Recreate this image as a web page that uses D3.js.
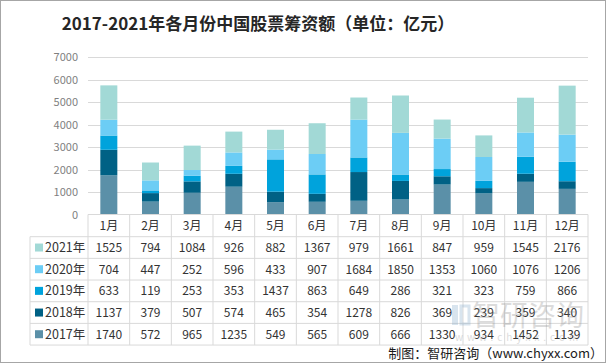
<!DOCTYPE html>
<html><head><meta charset="utf-8">
<script src="https://cdn.jsdelivr.net/npm/d3@7"></script>
<style>
html,body{margin:0;padding:0;background:#fff;}
svg{display:block;font-family:"Noto Sans CJK SC","Microsoft YaHei",sans-serif;}
</style></head>
<body>
<svg id="c" width="606" height="364"></svg>
<script>
const months = ["1月","2月","3月","4月","5月","6月","7月","8月","9月","10月","11月","12月"];
const seriesNames = ["2017年","2018年","2019年","2020年","2021年"];
const v2017 = [1740,572,965,1235,549,565,609,666,1330,934,1452,1139];
const v2018 = [1137,379,507,574,465,354,1278,826,369,239,359,340];
const v2019 = [633,119,253,353,1437,863,649,286,321,323,759,866];
const v2020 = [704,447,252,596,433,907,1684,1850,1353,1060,1076,1206];
const v2021 = [1525,794,1084,926,882,1367,979,1661,847,959,1545,2176];
const yTicks = [0,1000,2000,3000,4000,5000,6000,7000];
const colors = ["#5b90a8","#006185","#00a3dc","#6ccdf5","#a2d9d6"];
const seriesVals = [v2017,v2018,v2019,v2020,v2021];

const svg = d3.select("#c");
svg.append("rect").attr("x",0.5).attr("y",0.5).attr("width",605).attr("height",362)
  .attr("fill","none").attr("stroke","#a6a6a6").attr("stroke-width",1);

svg.append("text").attr("x",258).attr("y",30).attr("text-anchor","middle")
  .attr("font-size",17).attr("font-weight","bold").attr("fill","#262626")
  .text("2017-2021年各月份中国股票筹资额（单位：亿元）");

const x = d3.scaleBand().domain(months).range([88,588]).paddingInner(0).paddingOuter(0);
const y = d3.scaleLinear().domain([0,7000]).range([214.5,57]);

svg.append("g").selectAll("line").data(yTicks.filter(d=>d>0)).join("line")
  .attr("x1",88).attr("x2",588).attr("y1",d=>Math.round(y(d))+0.5).attr("y2",d=>Math.round(y(d))+0.5)
  .attr("stroke","#d9d9d9").attr("stroke-width",1);

const yAxis = d3.axisLeft(y).tickValues(yTicks).tickFormat(d3.format("d")).tickSize(0).tickPadding(0);
const ga = svg.append("g").attr("transform","translate(78,0)").call(yAxis);
ga.select(".domain").remove();
ga.selectAll("text").attr("font-size",11).attr("fill","#7f7f7f")
  .attr("font-family","'Noto Sans CJK SC',sans-serif");

const table = months.map((m,i)=>{const o={month:m}; seriesNames.forEach((s,j)=>o[s]=seriesVals[j][i]); return o;});
const stack = d3.stack().keys(seriesNames)(table);
const barW = 17;
svg.append("g").selectAll("g").data(stack).join("g").attr("fill",(d,i)=>colors[i])
  .selectAll("rect").data(d=>d).join("rect")
  .attr("x",d=>x(d.data.month)+x.bandwidth()/2-barW/2)
  .attr("width",barW)
  .attr("y",d=>y(d[1]))
  .attr("height",d=>y(d[0])-y(d[1]));

const tableTop = 214.5, monthRowH = 22.2, rowH = 21.67, labelLeft = 30;
const tg = svg.append("g");
const gridColor = "#d9d9d9";
const rowsCount = seriesNames.length;
tg.append("line").attr("x1",88).attr("x2",588).attr("y1",tableTop).attr("y2",tableTop).attr("stroke",gridColor);
for(let r=0;r<=rowsCount;r++){
  const yy = tableTop+monthRowH+r*rowH;
  tg.append("line").attr("x1",labelLeft).attr("x2",588).attr("y1",yy).attr("y2",yy).attr("stroke",gridColor);
}
const tableBottom = tableTop+monthRowH+rowsCount*rowH;
months.forEach((m,i)=>{
  tg.append("line").attr("x1",x(m)).attr("x2",x(m)).attr("y1",tableTop).attr("y2",tableBottom).attr("stroke",gridColor);
});
tg.append("line").attr("x1",588).attr("x2",588).attr("y1",tableTop).attr("y2",tableBottom).attr("stroke",gridColor);
tg.append("line").attr("x1",labelLeft).attr("x2",labelLeft).attr("y1",tableTop+monthRowH).attr("y2",tableBottom).attr("stroke",gridColor);

tg.selectAll("text.m").data(months).join("text").attr("class","m")
  .attr("x",d=>x(d)+x.bandwidth()/2).attr("y",tableTop+monthRowH/2+4.5)
  .attr("text-anchor","middle").attr("font-size",12).attr("fill","#333")
  .text(d=>d);

const order = [4,3,2,1,0];
order.forEach((si,r)=>{
  const cy = tableTop+monthRowH+r*rowH+rowH/2;
  tg.append("rect").attr("x",35).attr("y",cy-4).attr("width",8).attr("height",8).attr("fill",colors[si]);
  tg.append("text").attr("x",45).attr("y",cy+4.5).attr("font-size",12.5).attr("fill","#333").text(seriesNames[si]);
  tg.selectAll(null).data(seriesVals[si]).join("text")
    .attr("x",(d,i)=>x(months[i])+x.bandwidth()/2).attr("y",cy+4.5)
    .attr("text-anchor","middle").attr("font-size",12).attr("fill","#333")
    .text(d=>d);
});

// watermark (faint, as in reference)
const wm = svg.append("g").attr("opacity",0.3);
wm.append("rect").attr("x",452).attr("y",305).attr("width",6).attr("height",20).attr("fill","#7fa7c9");
wm.append("rect").attr("x",461).attr("y",306).attr("width",8).attr("height",18).attr("fill","none").attr("stroke","#7fa7c9").attr("stroke-width",3);
wm.append("text").attr("x",472).attr("y",326).attr("font-size",28).attr("fill","#8c8c8c").text("智研咨询");
wm.append("text").attr("x",455).attr("y",341).attr("font-size",10).attr("fill","#8c8c8c")
  .attr("letter-spacing",4).text("www.chyxx.com");

svg.append("text").attr("x",603).attr("y",358).attr("text-anchor","end")
  .attr("font-size",13).attr("fill","#1a1a1a").text("制图：智研咨询（www.chyxx.com）");
</script>
</body></html>
